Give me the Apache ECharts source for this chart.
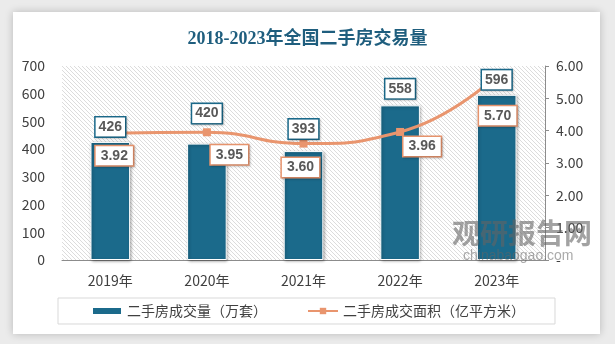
<!DOCTYPE html>
<html><head><meta charset="utf-8">
<script src="https://cdn.jsdelivr.net/npm/echarts@6/dist/echarts.min.js"></script>
<style>
html,body{margin:0;padding:0;width:615px;height:344px;background:#ebebeb;overflow:hidden}
#card{position:absolute;left:13px;top:12px;width:587px;height:322px;background:#fff;box-shadow:0 0 8px rgba(0,0,0,0.22)}
#c{position:absolute;left:0;top:0;width:615px;height:344px}
</style></head>
<body><div id="card"></div><div id="c"></div>
<script>
const categories = ['2019年','2020年','2021年','2022年','2023年'];
const volume = [426, 420, 393, 558, 596];
const area = [3.92, 3.95, 3.60, 3.96, 5.70];
const leftTicks = [0, 700, 100];
const rightTicks = [0, 6, 1];
const volumeLabelLift = [15, 30, 22, 16.5, 15];
const areaLabelOffset = [[4,22.5],[22.5,22.5],[-3,24],[22,14.5],[1,40]];

const pc = document.createElement('canvas');
pc.width = 4; pc.height = 4;
const g = pc.getContext('2d');
g.fillStyle = '#ffffff'; g.fillRect(0,0,4,4);
g.strokeStyle = '#dcdcdc'; g.lineWidth = 1;
g.beginPath(); g.moveTo(-1,-1); g.lineTo(5,5); g.moveTo(-1,3); g.lineTo(1,5); g.moveTo(3,-1); g.lineTo(5,1); g.stroke();

const FONT = "'Noto Sans CJK SC', 'Liberation Sans', sans-serif";
const TXT = '#404040';
const chart = echarts.init(document.getElementById('c'), null, {renderer:'canvas'});
chart.setOption({
  animation:false,
  textStyle:{fontFamily:FONT},
  title:{text:'2018-2023年全国二手房交易量', left:'center', top:25,
    textStyle:{fontFamily:"'Liberation Serif', 'Noto Sans CJK SC', serif", fontSize:18, fontWeight:'bold', color:'#1f5e7e'}},
  grid:{left:62, right:70, top:66, bottom:84, show:true, borderWidth:0,
    backgroundColor:{image:pc, repeat:'repeat'}},
  legend:{left:58, top:298, width:496, height:28, padding:[6,30,6,33],
    borderColor:'#d9d9d9', borderWidth:1, itemGap:40, itemWidth:30, itemHeight:8,
    textStyle:{fontSize:14, color:TXT, fontFamily:FONT},
    data:[{name:'二手房成交量（万套）', icon:'rect'}, {name:'二手房成交面积（亿平方米）'}]},
  xAxis:{type:'category', data:categories,
    axisLine:{lineStyle:{color:'#8c8c8c', width:1}}, axisTick:{show:false},
    axisLabel:{fontSize:14, color:TXT, margin:14}},
  yAxis:[
    {type:'value', min:leftTicks[0], max:leftTicks[1], interval:leftTicks[2],
      axisLine:{show:false}, axisTick:{show:false}, splitLine:{show:false},
      axisLabel:{fontSize:14, color:TXT, margin:17}},
    {type:'value', min:rightTicks[0], max:rightTicks[1], interval:rightTicks[2], position:'right',
      axisLine:{show:true, lineStyle:{color:'#8c8c8c'}}, axisTick:{show:true, length:4, lineStyle:{color:'#8c8c8c'}},
      splitLine:{show:false},
      axisLabel:{fontSize:14, color:TXT, margin:11, formatter:v => v===0 ? '-' : v.toFixed(2)}}
  ],
  series:[
    {name:'二手房成交量（万套）', type:'bar', data:volume, barWidth:'41%', z:2,
      itemStyle:{color:'#1b6a8b', borderColor:'#ffffff', borderWidth:1,
        shadowBlur:3, shadowColor:'rgba(0,0,0,0.35)', shadowOffsetX:1, shadowOffsetY:1}},
    {name:'二手房成交面积（亿平方米）', type:'line', yAxisIndex:1, data:area.map((v,i)=>({value:v,
        label:{offset:areaLabelOffset[i]}})), z:3,
      smooth:0.5, symbol:'rect', symbolSize:8, showSymbol:true,
      lineStyle:{color:'#e9956e', width:3}, itemStyle:{color:'#e9956e'},
      label:{show:true, position:'inside', formatter:p=>p.value.toFixed(2),
        backgroundColor:'#fff', borderColor:'#e9956e', borderWidth:1.5, padding:[3,5,2,5],
        fontSize:14, fontWeight:'bold', color:'#595959', fontFamily:"'Liberation Sans', sans-serif",
        shadowBlur:2, shadowColor:'rgba(0,0,0,0.2)', shadowOffsetX:1, shadowOffsetY:1}},
    {name:'barlabels', type:'scatter', data:volume.map((v,i)=>({value:v, label:{offset:[0,-volumeLabelLift[i]]}})),
      symbolSize:0, z:10, silent:true, itemStyle:{opacity:1},
      label:{show:true, position:'inside', formatter:p=>String(p.value),
        backgroundColor:'#fff', borderColor:'#1b6a8b', borderWidth:1.5, padding:[3,3,2,3],
        fontSize:14, fontWeight:'bold', color:'#595959', fontFamily:"'Liberation Sans', sans-serif",
        shadowBlur:2, shadowColor:'rgba(0,0,0,0.2)', shadowOffsetX:1, shadowOffsetY:1}}
  ],
  graphic:[
    {type:'text', left:452, top:219, z:20, silent:true,
      style:{text:'观研报告网', font:"bold 28px 'Noto Sans CJK SC'", fill:'rgba(100,100,100,0.6)'}},
    {type:'text', left:463, top:249, z:20, silent:true,
      style:{text:'chinabaogao.com', font:"14px 'Liberation Sans'", fill:'rgba(100,100,100,0.55)'}}
  ]
});
</script></body></html>
